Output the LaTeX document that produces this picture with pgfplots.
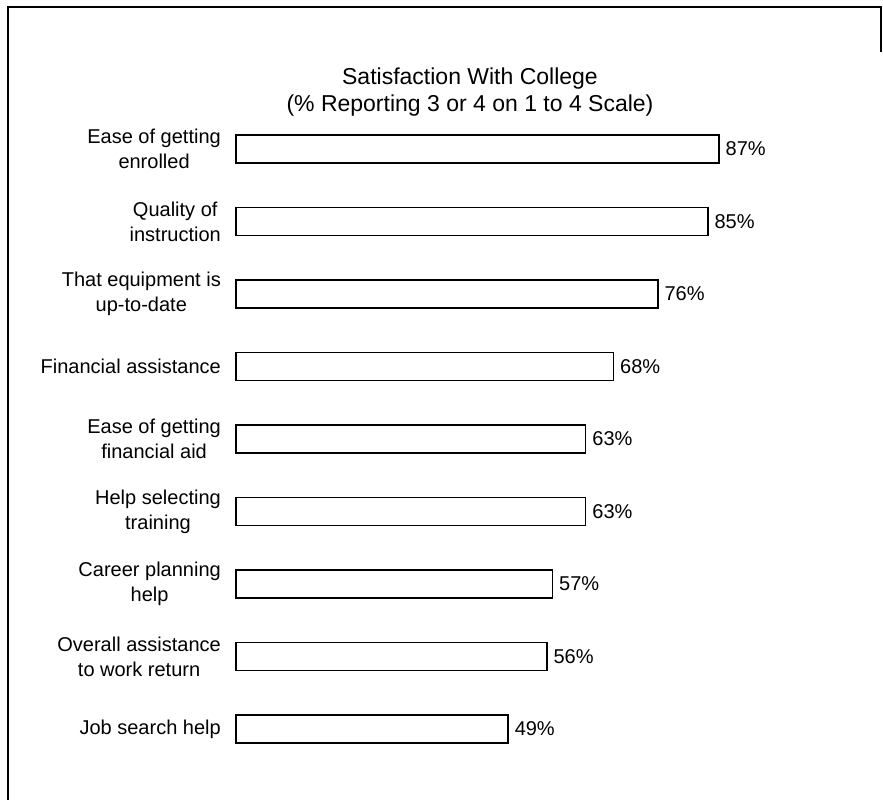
\documentclass[border=0pt]{standalone}
\usepackage{pgfplots}
\pgfplotsset{compat=1.18}
\usepackage{fontspec}
\setmainfont{Liberation Sans}
\begin{document}
\begin{tikzpicture}
\begin{axis}[
  at={(236pt,34.75pt)}, anchor=south west,
  scale only axis,
  width=555pt, height=652.5pt,
  xmin=0, xmax=100,
  ymin=-0.5, ymax=8.5,
  axis line style={draw=none},
  tick style={draw=none},
  major tick length=0pt,
  /pgf/number format/assume math mode=true,
  xbar,
  bar width=28pt,
  xtick=\empty,
  ytick={0,1,2,3,4,5,6,7,8},
  yticklabels={{Job search help},{Overall assistance\\to work return},{Career planning\\help},{Help selecting\\training},{Ease of getting\\financial aid},{Financial assistance},{That equipment is\\up-to-date},{Quality of\\instruction},{Ease of getting\\enrolled}},
  yticklabel style={align=center, anchor=east, inner sep=0pt, xshift=-15pt, font=\fontsize{20}{25}\selectfont},
  nodes near coords={\pgfmathprintnumber{\pgfplotspointmeta}\%},
  point meta=x,
  every node near coord/.append style={anchor=west, inner sep=1pt, xshift=5pt, font=\fontsize{20}{24}\selectfont, text=black},
  title={Satisfaction With College\\(\% Reporting 3 or 4 on 1 to 4 Scale)},
  title style={at={(axis description cs:0.4216,1.0226)}, anchor=center, align=center, font=\fontsize{23}{27}\selectfont},
  clip=false,
]
\addplot[draw=black, fill=white, line width=1.6pt] coordinates {
  (49,0) (56,1) (57,2) (63,3) (63,4) (68,5) (76,6) (85,7) (87,8)
};
\end{axis}
\draw[line width=1.6pt] (8pt,0pt) -- (8pt,793pt) -- (881pt,793pt) -- (881pt,748pt);
\pgfresetboundingbox
\useasboundingbox (0pt,0pt) rectangle (883pt,800pt);
\end{tikzpicture}
\end{document}
